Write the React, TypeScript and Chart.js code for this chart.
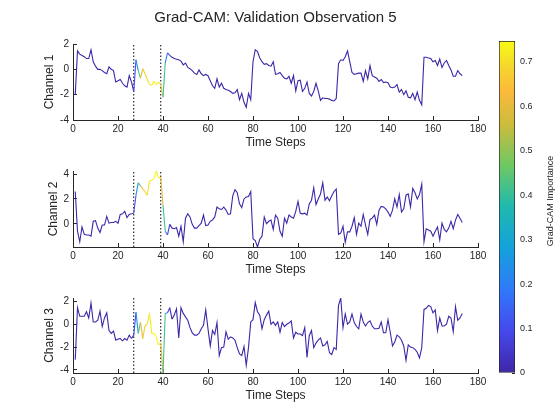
import React, { useEffect, useRef } from "react";
import { Chart, registerables } from "chart.js";

Chart.register(...registerables);

// ---------------- data ----------------
const timeSteps = Array.from({ length: 173 }, (_, i) => i + 1);

const channel1 = [
  -2.0, 1.45, 1.2, 1.1, 1.0, 0.85, 0.85, 1.55, 0.6, 0.25,
  0.0, 0.0, -0.1, -0.25, -0.35, 0.2, 0.0, -0.1, -1.0, -0.9,
  -0.8, -1.1, -1.3, -1.4, -0.5, -1.0, -1.75, 0.75, -0.1, -0.7,
  0.05, -0.35, -0.8, -1.2, -1.25, -0.95, -1.2, -1.0, -1.2, -2.2,
  0.5, 1.3, 1.1, 0.95, 0.85, 0.8, 0.75, 0.65, 0.35, 0.5,
  0.15, 0.05, -0.1, -0.3, -0.4, -0.05, -0.35, -0.5, -0.4, -0.5,
  -0.9, -1.3, -1.5, -0.75, -1.4, -1.1, -1.5, -1.6, -1.65, -1.75,
  -1.9, -1.85, -1.6, -2.4, -1.9, -2.6, -3.0, -1.9, -2.4, 0.6,
  1.55, 1.4, 0.9, 0.6, 0.4, 0.45, 0.3, 0.25, 0.6, -0.4,
  -0.35, -0.25, -0.5, -0.7, -0.75, -0.55, -1.1, -0.5, -1.7, -0.9,
  -0.85, -1.75, -1.5, -1.0, -1.9, -2.1, -1.75, -1.1, -1.7, -2.45,
  -2.25, -2.3, -2.3, -2.35, -2.45, -2.5, -2.3, 0.45, 0.75, 0.7,
  1.0, 1.45, 0.6, -0.25, -0.4, -0.35, -0.3, -0.3, -0.95, -0.1,
  -0.75, 0.3, -0.5, -0.6, -0.7, -0.95, -0.8, -1.05, -1.0, -1.05,
  -1.4, -1.45, -1.4, -1.2, -1.8, -1.6, -2.0, -1.7, -2.2, -2.25,
  -1.9, -2.4, -1.8, -2.45, -2.8, 0.95, 0.95, 0.9, 0.85, 0.6,
  0.7, 0.3, 0.8, 0.15, 0.5, 0.7, 0.3, -0.05, -0.55, -0.55,
  -0.1, -0.35, -0.5,
];

const channel2 = [
  2.6, -0.6, -1.45, -0.25, -0.85, -0.9, -0.9, -1.0, 0.2, 0.25,
  -0.35, -0.7, -0.1, -0.1, 0.6, 0.05, 0.1, 0.1, 0.2, 0.05,
  0.75, 0.8, 1.0, 0.5, 0.75, 0.8, 0.85, 2.3, 3.3, 3.05,
  2.8, 2.6, 2.3, 3.45, 3.5, 3.65, 4.25, 3.7, 3.75, 1.5,
  -0.6, -0.9, -0.05, -0.35, -0.4, -0.3, -1.0, -0.2, -1.45, 0.45,
  0.8, 0.55, -0.05, -0.35, -0.35, -0.15, 0.05, 0.7, -0.15, -0.1,
  0.2, 0.3, 0.55, 1.35, 1.2, 1.15, 1.35, 1.1, 0.75, 0.8,
  2.25, 2.75, 2.5, 1.6, 1.3, 2.0, 2.15, 2.2, 2.6, -1.2,
  -1.35, -1.87, -1.25, -1.0, 0.55, 0.0, 0.2, 0.3, -0.45, 0.7,
  0.45, -0.6, -1.0, 0.45, 0.05, 0.7, 0.55, 0.45, 1.0, 1.8,
  0.85, 0.8, 0.85, 0.7, 1.6, 1.9, 2.9, 1.55, 2.0, 2.4,
  3.3, 1.9, 2.15, 1.85, 2.25, 2.6, 2.8, -0.85, -0.75, -0.2,
  -1.5, -0.65, -0.65, -0.2, 0.5, -0.85, 0.05, -0.2, 0.75, -0.1,
  -0.85, 0.35, 0.45, 0.7, -0.05, 1.1, 1.4, 1.35, 1.2, 0.95,
  0.6, 1.1, 2.0, 1.35, 2.35, 0.95, 1.2, 2.3, 2.4, 1.35,
  2.85, 2.5, 2.0, 2.35, 3.2, -1.45, -0.4, -0.5, -0.6, -1.0,
  -0.6, -0.25, -1.3, 0.05, -0.45, -0.65, -0.35, 0.2, -0.4, 0.3,
  0.75, 0.45, 0.1,
];

const channel3 = [
  -3.1, 1.45, 0.7, 0.7, 0.7, 1.1, 0.55, 1.85, 0.2, 0.2,
  0.35, 1.15, -0.2, 0.55, 1.0, -0.55, -0.8, -0.6, -1.4, -1.3,
  -1.25, -1.45, -1.25, -1.4, -0.95, -1.25, -0.95, 1.05, -0.8, 0.15,
  -1.25, -0.15, 0.0, 0.95, -0.8, -0.8, -1.1, -1.8, -1.65, -4.27,
  0.95, 1.0, 1.45, 0.45, 0.8, 1.35, -1.2, 1.45, 0.95, 0.65,
  0.35, -0.3, -0.75, -0.95, -0.95, -0.8, -0.4, -0.1, 1.25, -0.4,
  -1.9, -0.55, -0.9, 0.15, -2.75, -2.05, -2.0, -0.65, -1.3, -1.1,
  -1.2, -1.4, -2.05, -2.6, -2.75, -1.95, -3.6, -2.05, 0.2, 0.4,
  1.9, 1.1, 0.8, -0.4, 0.4, 0.8, 1.15, 0.0, 0.2, -0.1,
  0.2, -0.7, 0.15, -0.2, 0.0, 0.1, 0.3, -1.2, -0.7, -0.85,
  -0.85, -1.0, -0.3, -2.9, -1.0, -0.55, -2.05, -1.65, -1.4, -1.2,
  -1.9, -1.8, -1.5, -2.5, -2.65, -2.05, -2.2, 1.65, 2.3, -0.3,
  0.9, 0.0, 0.2, 0.9, 0.15, -0.2, -0.4, 0.9, 0.2, -0.15,
  0.15, 0.3, -0.15, -0.4, -0.4, -0.35, 0.2, -0.75, -0.75, 0.4,
  -0.7, -1.9, -1.55, -0.95, -1.1, -1.4, -1.9, -3.15, -1.8, -2.0,
  -2.05, -2.2, -2.45, -2.95, -2.05, 1.3, 1.4, 1.65, 1.55, 1.0,
  1.25, -0.55, 0.55, -0.15, -0.15, 0.0, 0.7, 0.55, -0.65, 1.55,
  0.35, 0.55, 0.95,
];

// Grad-CAM importance per time step
const importance = [
  0, 0, 0, 0, 0, 0, 0, 0, 0, 0,
  0, 0, 0, 0, 0, 0, 0, 0, 0, 0,
  0, 0, 0, 0, 0, 0, 0.03, 0.18, 0.32, 0.52,
  0.66, 0.68, 0.7, 0.71, 0.73, 0.747, 0.74, 0.72, 0.68, 0.52,
  0.32, 0.12, 0.03, 0, 0, 0, 0, 0, 0, 0,
  0, 0, 0, 0, 0, 0, 0, 0, 0, 0,
  0, 0, 0, 0, 0, 0, 0, 0, 0, 0,
  0, 0, 0, 0, 0, 0, 0, 0, 0, 0,
  0, 0, 0, 0, 0, 0, 0, 0, 0, 0,
  0, 0, 0, 0, 0, 0, 0, 0, 0, 0,
  0, 0, 0, 0, 0, 0, 0, 0, 0, 0,
  0, 0, 0, 0, 0, 0, 0, 0, 0, 0,
  0, 0, 0, 0, 0, 0, 0, 0, 0, 0,
  0, 0, 0, 0, 0, 0, 0, 0, 0, 0,
  0, 0, 0, 0, 0, 0, 0, 0, 0, 0,
  0, 0, 0, 0, 0, 0, 0, 0, 0, 0,
  0, 0, 0, 0, 0, 0, 0, 0, 0, 0,
  0, 0, 0,
];

const channels = [channel1, channel2, channel3];
const channelNames = ["Channel 1", "Channel 2", "Channel 3"];
const yLimits = [
  [-4, 2],
  [-1.87, 4.25],
  [-4.27, 2.3],
];
const dividerSteps = [27, 39];
const colorbarMax = 0.747;
const titleText = "Grad-CAM: Validation Observation 5";
const xTitle = "Time Steps";
const colorbarTitle = "Grad-CAM Importance";

// ---------------- style ----------------
const FONT = "'Liberation Sans', Arial, Helvetica, sans-serif";
const INK = "#262626";
Chart.defaults.font.family = FONT;
Chart.defaults.color = INK;

const PARULA: [number, number[]][] = [
  [0.0, [62, 38, 168]],
  [0.125, [70, 72, 235]],
  [0.25, [48, 120, 250]],
  [0.375, [20, 162, 220]],
  [0.5, [30, 185, 175]],
  [0.625, [110, 200, 100]],
  [0.75, [205, 188, 60]],
  [0.85, [252, 186, 60]],
  [0.925, [245, 215, 45]],
  [1.0, [249, 251, 21]],
];

function parulaAt(t: number): string {
  const v = Math.max(0, Math.min(1, t));
  for (let i = 1; i < PARULA.length; i++) {
    const [p1, c1] = PARULA[i];
    const [p0, c0] = PARULA[i - 1];
    if (v <= p1) {
      const f = (v - p0) / (p1 - p0);
      const c = c0.map((a, k) => Math.round(a + (c1[k] - a) * f));
      return `rgb(${c[0]},${c[1]},${c[2]})`;
    }
  }
  const c = PARULA[PARULA.length - 1][1];
  return `rgb(${c[0]},${c[1]},${c[2]})`;
}
const colorFor = (imp: number) => parulaAt(imp / colorbarMax);

// subplot chart areas (top, bottom) in page px; left/right shared
const AREA_LEFT = 73;
const AREA_RIGHT = 478;
const AREAS = [
  [40, 120],
  [167, 247],
  [294, 373],
];
const Y_SCALE_LEFT = [38, 42, 38];
const PAD_TOP = 10;
const X_SCALE_H = 30;
const PAD_BOTTOM = 2;
const CANVAS_W = 560;

function subplotConfig(k: number): any {
  const values = channels[k];
  const [ymin, ymax] = yLimits[k];
  const padL = Y_SCALE_LEFT[k];
  return {
    type: "line",
    data: {
      datasets: [
        {
          data: timeSteps.map((t, i) => ({ x: t, y: values[i] })),
          borderColor: colorFor(0),
          borderWidth: 1.1,
          pointRadius: 0,
          tension: 0,
          segment: {
            borderColor: (c: any) =>
              colorFor((importance[c.p0DataIndex] + importance[c.p1DataIndex]) / 2),
          },
        },
        ...dividerSteps.map((s) => ({
          data: [
            { x: s, y: ymin },
            { x: s, y: ymax },
          ],
          borderColor: "#000000",
          borderWidth: 1,
          borderDash: [1.5, 2],
          pointRadius: 0,
        })),
      ],
    },
    options: {
      responsive: false,
      animation: false,
      events: [],
      layout: { padding: { left: padL, right: CANVAS_W - AREA_RIGHT, top: PAD_TOP, bottom: PAD_BOTTOM } },
      plugins: { legend: { display: false }, tooltip: { enabled: false }, title: { display: false } },
      scales: {
        x: {
          type: "linear",
          min: 0,
          max: 180,
          ticks: { stepSize: 20, padding: 7, font: { size: 10 }, color: INK, maxRotation: 0 },
          grid: { drawOnChartArea: false, tickLength: -4, tickColor: INK, tickWidth: 1 },
          border: { color: INK, width: 1 },
          title: { display: true, text: xTitle, font: { size: 12 }, color: INK, padding: { top: 0, bottom: 0 } },
          afterFit: (s: any) => {
            s.height = X_SCALE_H;
          },
        },
        y: {
          type: "linear",
          min: ymin,
          max: ymax,
          ticks: { stepSize: 2, includeBounds: false, padding: 8, font: { size: 10 }, color: INK },
          grid: { drawOnChartArea: false, tickLength: -4, tickColor: INK, tickWidth: 1 },
          border: { color: INK, width: 1 },
          title: {
            display: true,
            text: channelNames[k],
            font: { size: 12 },
            color: INK,
            padding: { top: 4, bottom: 0 },
          },
          afterFit: (s: any) => {
            s.width = AREA_LEFT - padL;
          },
        },
      },
    },
  };
}

function titleConfig(): any {
  return {
    type: "line",
    data: { datasets: [] },
    options: {
      responsive: false,
      animation: false,
      events: [],
      layout: { padding: 0 },
      plugins: {
        legend: { display: false },
        tooltip: { enabled: false },
        title: {
          display: true,
          text: titleText,
          color: INK,
          font: { size: 15, weight: "normal" },
          padding: { top: 8.5, bottom: 0 },
        },
      },
      scales: { x: { display: false }, y: { display: false } },
    },
  };
}

function colorbarConfig(): any {
  return {
    type: "bar",
    data: {
      labels: [""],
      datasets: [
        {
          data: [colorbarMax],
          backgroundColor: (ctx: any) => {
            const chart = ctx.chart;
            const a = chart.chartArea;
            if (!a) return colorFor(0);
            const g = chart.ctx.createLinearGradient(0, a.bottom, 0, a.top);
            PARULA.forEach(([p, c]) => g.addColorStop(p, `rgb(${c[0]},${c[1]},${c[2]})`));
            return g;
          },
          borderColor: INK,
          borderWidth: 1,
          borderSkipped: false,
          barPercentage: 1,
          categoryPercentage: 1,
        },
      ],
    },
    options: {
      responsive: false,
      animation: false,
      events: [],
      layout: { padding: { left: 19, right: 0, top: 41, bottom: 47 } },
      plugins: { legend: { display: false }, tooltip: { enabled: false } },
      scales: {
        x: { display: false },
        y: {
          position: "right",
          min: 0,
          max: colorbarMax,
          ticks: { stepSize: 0.1, includeBounds: false, padding: 8, font: { size: 9 }, color: INK },
          grid: { drawOnChartArea: false, tickLength: -3, tickColor: INK, tickWidth: 1 },
          border: { display: false },
          afterFit: (s: any) => {
            s.width = 45;
          },
        },
      },
    },
  };
}

function colorbarLabelConfig(): any {
  return {
    type: "line",
    data: { datasets: [] },
    options: {
      responsive: false,
      animation: false,
      events: [],
      layout: { padding: 0 },
      plugins: { legend: { display: false }, tooltip: { enabled: false } },
      scales: {
        x: { display: false, type: "linear", min: 0, max: 1 },
        y: {
          position: "left",
          min: 0,
          max: 1,
          ticks: { display: false },
          grid: { display: false, drawTicks: false },
          border: { display: false },
          title: {
            display: true,
            text: colorbarTitle,
            font: { size: 9 },
            color: INK,
            padding: { top: 1, bottom: 0 },
          },
          afterFit: (s: any) => {
            s.width = 12;
          },
        },
      },
    },
  };
}

function ChartBox(props: { left: number; top: number; width: number; height: number; make: () => any }) {
  const ref = useRef<HTMLCanvasElement>(null);
  useEffect(() => {
    const chart = new Chart(ref.current as HTMLCanvasElement, props.make());
    return () => chart.destroy();
  }, []);
  return (
    <canvas
      ref={ref}
      width={props.width}
      height={props.height}
      style={{ position: "absolute", left: props.left, top: props.top, width: props.width, height: props.height }}
    />
  );
}

export default function App() {
  return (
    <div
      style={{
        position: "absolute",
        left: 0,
        top: 0,
        width: 560,
        height: 420,
        background: "#ffffff",
        overflow: "hidden",
      }}
    >
      <ChartBox left={0} top={0} width={551} height={40} make={titleConfig} />
      {AREAS.map(([t, b], k) => (
        <ChartBox
          key={k}
          left={0}
          top={t - PAD_TOP}
          width={CANVAS_W}
          height={PAD_TOP + (b - t) + X_SCALE_H + PAD_BOTTOM}
          make={() => subplotConfig(k)}
        />
      ))}
      <ChartBox left={480} top={0} width={80} height={420} make={colorbarConfig} />
      <ChartBox left={544} top={35} width={16} height={332} make={colorbarLabelConfig} />
    </div>
  );
}
